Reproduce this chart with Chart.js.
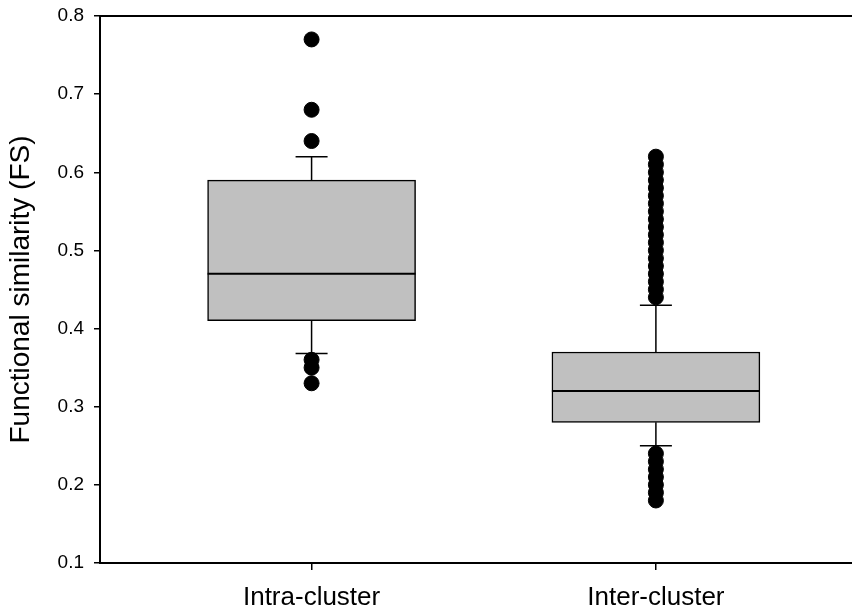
<!DOCTYPE html>
<html>
<head>
<meta charset="utf-8">
<script src="https://cdn.jsdelivr.net/npm/chart.js@4"></script>
<style>
  html, body { margin: 0; padding: 0; background: #fff; overflow: hidden; }
  #wrap { position: absolute; left: 0; top: 0; width: 862px; height: 609px; }
</style>
</head>
<body>
<div id="wrap"><canvas id="chart" width="862" height="609"></canvas></div>
<script>
// ── Data ──────────────────────────────────────────────────────────────────────
const categories   = ['Intra-cluster', 'Inter-cluster'];
const catPos       = [1, 2];
const whiskerLow   = [0.368, 0.25];
const q1           = [0.41, 0.28];
const median       = [0.47, 0.32];
const q3           = [0.59, 0.37];
const whiskerHigh  = [0.62, 0.43];
const intraOutliers = [0.77, 0.68, 0.64, 0.36, 0.35, 0.33];
const interOutliers = [
  0.62, 0.61, 0.60, 0.59, 0.58, 0.57, 0.56, 0.55, 0.54, 0.53,
  0.52, 0.51, 0.50, 0.49, 0.48, 0.47, 0.46, 0.45, 0.44,
  0.24, 0.23, 0.22, 0.21, 0.20, 0.19, 0.18
];
const yTicks = [0.1, 0.2, 0.3, 0.4, 0.5, 0.6, 0.7, 0.8];

const FONT = "'Liberation Sans', Arial, Helvetica, sans-serif";
const INK  = '#000';

const outlierPoints = [
  ...intraOutliers.map(v => ({ x: catPos[0], y: v })),
  ...interOutliers.map(v => ({ x: catPos[1], y: v })),
];

// Whiskers, caps and median lines, drawn right after the box dataset so the
// outlier dots end up on top.
const boxExtras = {
  id: 'boxExtras',
  afterDatasetDraw(chart, args) {
    if (args.index !== 0) return;
    const { ctx, scales: { x, y } } = chart;
    const boxHalf = 104, capHalf = 16;
    ctx.save();
    ctx.strokeStyle = INK;
    catPos.forEach((c, i) => {
      const cx = x.getPixelForValue(c);
      ctx.lineWidth = 1.5;
      ctx.beginPath();
      ctx.moveTo(cx, y.getPixelForValue(q3[i]));
      ctx.lineTo(cx, y.getPixelForValue(whiskerHigh[i]));
      ctx.moveTo(cx, y.getPixelForValue(q1[i]));
      ctx.lineTo(cx, y.getPixelForValue(whiskerLow[i]));
      ctx.moveTo(cx - capHalf, y.getPixelForValue(whiskerHigh[i]));
      ctx.lineTo(cx + capHalf, y.getPixelForValue(whiskerHigh[i]));
      ctx.moveTo(cx - capHalf, y.getPixelForValue(whiskerLow[i]));
      ctx.lineTo(cx + capHalf, y.getPixelForValue(whiskerLow[i]));
      ctx.stroke();
      ctx.lineWidth = 2;
      ctx.beginPath();
      ctx.moveTo(cx - boxHalf, y.getPixelForValue(median[i]));
      ctx.lineTo(cx + boxHalf, y.getPixelForValue(median[i]));
      ctx.stroke();
    });
    ctx.restore();
  },
  afterDraw(chart) {
    // top frame line
    const { ctx, chartArea: a } = chart;
    ctx.save();
    ctx.strokeStyle = INK;
    ctx.lineWidth = 2;
    ctx.beginPath();
    ctx.moveTo(a.left, a.top);
    ctx.lineTo(a.right, a.top);
    ctx.stroke();
    ctx.restore();
  }
};

new Chart(document.getElementById('chart').getContext('2d'), {
  type: 'bar',
  data: {
    datasets: [
      {
        label: 'box',
        data: catPos.map((c, i) => ({ x: c, y: [q1[i], q3[i]] })),
        backgroundColor: '#c0c0c0',
        borderColor: INK,
        borderWidth: 1.5,
        borderSkipped: false,
        barThickness: 208,
        order: 2,
      },
      {
        type: 'scatter',
        label: 'outliers',
        data: outlierPoints,
        backgroundColor: INK,
        borderColor: INK,
        borderWidth: 1,
        pointRadius: 7.5,
        pointHoverRadius: 7.5,
        order: 1,
      }
    ]
  },
  options: {
    responsive: false,
    animation: false,
    devicePixelRatio: 1,
    layout: { padding: { top: 16, left: 0, right: 0, bottom: 0 } },
    plugins: { legend: { display: false }, tooltip: { enabled: false } },
    scales: {
      x: {
        type: 'linear',
        position: 'bottom',
        offset: false,
        min: 0.3855,
        max: 2.5739,
        afterBuildTicks: s => { s.ticks = catPos.map(v => ({ value: v })); },
        afterFit: s => { s.height = 46; s.paddingLeft = 0; s.paddingRight = 0; },
        ticks: {
          color: INK, padding: 12, maxRotation: 0, autoSkip: false,
          font: { family: FONT, size: 26 },
          callback: (v, i) => categories[i],
        },
        grid: { drawOnChartArea: false, offset: false, color: INK, lineWidth: 1.5, tickLength: 7 },
        border: { color: INK, width: 2 },
      },
      y: {
        type: 'linear',
        position: 'left',
        min: 0.1,
        max: 0.8,
        afterBuildTicks: s => { s.ticks = yTicks.map(v => ({ value: v })); },
        afterFit: s => { s.width = 100; s.paddingTop = 0; s.paddingBottom = 0; },
        ticks: {
          color: INK, padding: 10,
          font: { family: FONT, size: 19 },
          callback: v => v.toFixed(1),
        },
        grid: { drawOnChartArea: false, color: INK, lineWidth: 1.5, tickLength: 6 },
        border: { color: INK, width: 2 },
        title: {
          display: true,
          text: 'Functional similarity (FS)',
          color: INK,
          font: { family: FONT, size: 28 },
          padding: { top: 4, bottom: 0 },
        },
      }
    }
  },
  plugins: [boxExtras]
});
</script>
</body>
</html>
